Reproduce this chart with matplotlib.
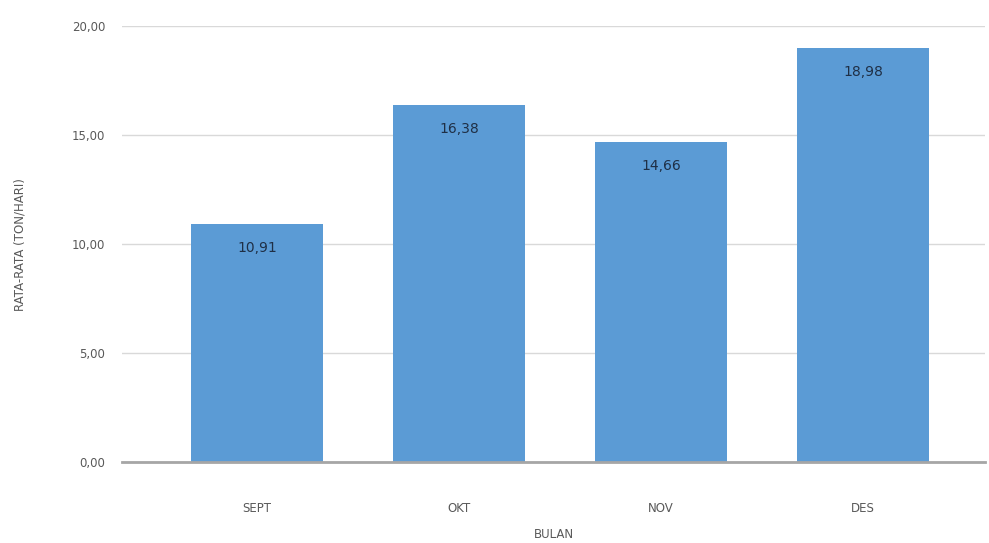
import matplotlib

matplotlib.use("Agg")
import matplotlib.pyplot as plt
from matplotlib.ticker import FuncFormatter

# --- data -----------------------------------------------------------------
months = ["SEPT", "OKT", "NOV", "DES"]
avg_ton_per_day = [10.91, 16.38, 14.66, 18.98]
y_ticks = [0, 5, 10, 15, 20]

BAR_COLOR = "#5B9BD5"
TEXT_GRAY = "#595959"


def comma(v, _pos=None):
    return f"{v:.2f}".replace(".", ",")


fig = plt.figure(figsize=(9.89, 5.43), dpi=100)
ax = fig.add_axes([0.1234, 0.149, 0.8726, 0.803])

x = list(range(len(months)))
bars = ax.bar(x, avg_ton_per_day, width=0.65, color=BAR_COLOR, zorder=2)

for rect, v in zip(bars, avg_ton_per_day):
    ax.annotate(
        comma(v),
        xy=(rect.get_x() + rect.get_width() / 2, rect.get_height()),
        xytext=(0, -12),
        textcoords="offset points",
        ha="center",
        va="top",
        fontsize=10,
        color="#1f2f45",
    )

ax.set_xlim(-0.668, 3.604)
ax.set_ylim(0, 20)
ax.set_yticks(y_ticks)
ax.yaxis.set_major_formatter(FuncFormatter(comma))
ax.set_xticks(x)
ax.set_xticklabels(months)
ax.tick_params(axis="both", length=0, labelsize=8.5, colors=TEXT_GRAY)
ax.tick_params(axis="y", pad=12)
ax.tick_params(axis="x", pad=29)

ax.yaxis.grid(True, color="#d9d9d9", linewidth=1.0, zorder=0)
ax.set_axisbelow(True)
for side in ("top", "right", "left"):
    ax.spines[side].set_visible(False)
ax.spines["bottom"].set_color("#a6a6a6")
ax.spines["bottom"].set_linewidth(2.0)

ax.set_ylabel("RATA-RATA (TON/HARI)", fontsize=8.5, color=TEXT_GRAY, labelpad=33)
ax.set_xlabel("BULAN", fontsize=8.5, color=TEXT_GRAY, labelpad=9)

fig.savefig("out.png", dpi=100)
